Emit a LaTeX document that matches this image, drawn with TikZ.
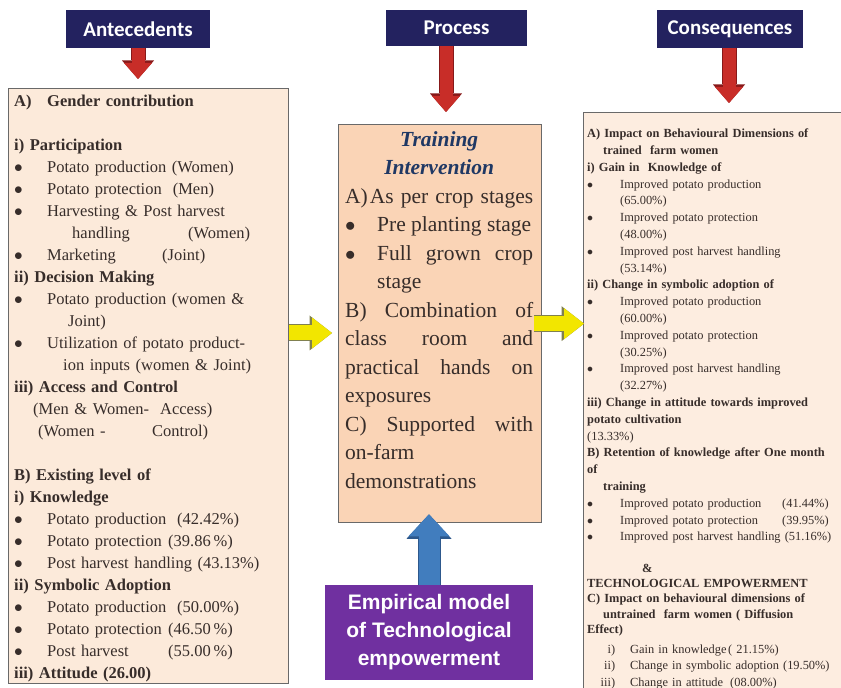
\documentclass[tikz,border=0pt]{standalone}
\usepackage{fontspec}
\setmainfont{Liberation Serif}
\newfontfamily\calibrifont{Carlito}
\newfontfamily\arialfont{Liberation Sans}
\usepackage{xcolor}
\usetikzlibrary{arrows.meta,positioning}

\definecolor{headnavy}{RGB}{35,34,95}
\definecolor{antefill}{RGB}{252,234,218}
\definecolor{procfill}{RGB}{250,212,182}
\definecolor{consfill}{RGB}{253,237,224}
\definecolor{empurple}{RGB}{112,48,160}
\definecolor{boxline}{RGB}{105,105,105}
\definecolor{titleblue}{RGB}{31,56,100}
\definecolor{bodytxt}{RGB}{55,45,42}
\definecolor{arrred}{RGB}{200,45,40}
\definecolor{arrreddark}{RGB}{135,25,25}
\definecolor{arrblue}{RGB}{65,125,190}
\definecolor{arrbluedark}{RGB}{45,88,140}
\definecolor{arryellow}{RGB}{242,230,0}
\definecolor{arryellowdark}{RGB}{128,128,80}

\newcommand{\bul}{\makebox[33pt][l]{$\bullet$}}
\newcommand{\colbox}[2]{\makebox[#1][l]{#2}}
% justified line: spaces stretch to the given width
\newcommand{\spread}[2]{{\spaceskip=0pt\xspaceskip=0pt\makebox[#1][s]{#2}}}
\newcommand{\jline}[1]{\spread{\hsize}{#1}}

\begin{document}
\begin{tikzpicture}[x=1pt, y=1pt,
  head/.style={fill=headnavy, text=white, inner sep=0pt,
               font=\calibrifont\bfseries\fontsize{21}{24}\selectfont},
  bigbox/.style={draw=boxline, line width=1.3pt, inner sep=0pt, anchor=north west},
  txt/.style={text=bodytxt, inner sep=0pt, anchor=north west, align=left},
  redarr/.style={draw=arrred, line width=13pt, shorten >=9pt,
                 -{Triangle[width=28pt, length=16pt, line width=0pt 0]},
                 preaction={draw=arrreddark, line width=15pt,
                 -{Triangle[width=32pt, length=18.5pt, line width=0pt 0]}}},
  yelarr/.style={draw=arryellow, line width=15pt,
                 -{Triangle[width=31pt, length=20pt, line width=0pt 0]},
                 preaction={draw=arryellowdark, line width=17pt,
                 -{Triangle[width=35pt, length=22.5pt, line width=0pt 0]}}},
  bluearr/.style={draw=arrblue, line width=21pt,
                 -{Triangle[width=41pt, length=22pt, line width=0pt 0]},
                 preaction={draw=arrbluedark, line width=23pt,
                 -{Triangle[width=45pt, length=24.5pt, line width=0pt 0]}}}]
\useasboundingbox (0,0) rectangle (841,688);
\fill[white] (0,0) rectangle (841,688);
\clip (0,0) rectangle (841,688);
% --- header boxes ---
\node[head, minimum width=144pt, minimum height=38pt] (anteh) at (138,659) {Antecedents};
\node[head, minimum width=141pt, minimum height=36pt] (proch) at (456.5,660) {Process};
\node[head, minimum width=146pt, minimum height=38pt] (consh) at (730,659) {Consequences};
% --- the three main boxes ---
\node[bigbox, fill=antefill, minimum width=280pt, minimum height=595pt] (ante) at (8,600) {};
\node[bigbox, fill=procfill, minimum width=203pt, minimum height=398pt] (proc) at (338,564) {};
\node[bigbox, fill=consfill, minimum width=300pt, minimum height=640pt] (cons) at (583,576) {};
% --- empirical model box ---
\node[fill=empurple, text=white, align=center, inner sep=0pt,
      minimum width=208pt, minimum height=95pt,
      font=\arialfont\bfseries\fontsize{21}{28}\selectfont] (model) at (429,55.5)
  {Empirical model\\of Technological\\empowerment};
% --- arrows ---
\draw[redarr] (anteh.south) -- (ante.north -| anteh.south);
\draw[redarr, shorten >=12pt] (proch.south -| 446,0) -- (proc.north -| 446,0);
\draw[redarr] (consh.south -| 729,0) -- (cons.north -| 729,0);
\draw[yelarr, shorten >=6pt] (ante.east |- 0,355) -- (proc.west |- 0,355);
\draw[yelarr, shorten <=-8pt, shorten >=-1pt] (proc.east) -- (cons.west |- proc.east);
\draw[bluearr, shorten >=-9pt] (model.north) -- (model.north |- proc.south);
% --- left box text ---
\node[txt, text width=272pt, font=\fontsize{16.5}{22}\selectfont] (antetxt) at (14,596.9)
  {\strut\colbox{33pt}{\textbf{A)}}\textbf{Gender contribution}\\[22pt]
   \textbf{i) Participation}\\
   \bul Potato production (Women)\\
   \bul Potato protection\ \ (Men)\\
   \bul Harvesting \& Post harvest\\
   \hspace*{58pt}\colbox{116pt}{handling}(Women)\\
   \bul\colbox{115pt}{Marketing}(Joint)\\
   \textbf{ii) Decision Making}\\
   \bul Potato production (women \&\\
   \hspace*{54pt}Joint)\\
   \bul Utilization of potato product-\\
   \hspace*{49pt}ion inputs (women \& Joint)\\
   \textbf{iii) Access and Control}\\
   \hspace*{19pt}(Men \& Women-\ \ Access)\\
   \hspace*{24pt}\colbox{114pt}{(Women -}Control)\\[22pt]
   \textbf{B) Existing level of}\\
   \textbf{i) Knowledge}\\
   \bul\colbox{130pt}{Potato production}(42.42\%)\\
   \bul\colbox{121pt}{Potato protection}(39.86\,\%)\\
   \bul Post harvest handling (43.13\%)\\
   \textbf{ii) Symbolic Adoption}\\
   \bul\colbox{130pt}{Potato production}(50.00\%)\\
   \bul\colbox{121pt}{Potato protection}(46.50\,\%)\\
   \bul\colbox{121pt}{Post harvest}(55.00\,\%)\\
   \textbf{iii) Attitude (26.00)}};
% --- middle box text ---
\node[txt, text width=188pt, font=\fontsize{21.5}{28.5}\selectfont] (proctxt) at (345,562)
  {\strut\makebox[\hsize][c]{\color{titleblue}\bfseries\itshape Training}\\
   \makebox[\hsize][c]{\color{titleblue}\bfseries\itshape Intervention}\\
   \jline{A)\hspace{2pt}As per crop stages}\\
   \colbox{32pt}{$\bullet$}\spread{154pt}{Pre planting stage}\\
   \colbox{32pt}{$\bullet$}\spread{156pt}{Full grown crop}\\
   \hspace*{32pt}stage\\
   \jline{B) Combination of}\\
   \jline{class room and}\\
   \jline{practical hands on}\\
   exposures\\
   \jline{C) Supported with}\\
   on-farm\\
   demonstrations};
% --- right box text ---
\node[txt, text width=275pt, font=\fontsize{12.4}{16.8}\selectfont] (constxt) at (587,562.3)
  {\strut\textbf{A) Impact on Behavioural Dimensions of}\\
   \hspace*{16pt}\textbf{trained\ \ farm women}\\
   \textbf{i) Gain in\ \ Knowledge of}\\
   \bul Improved potato production\\
   \hspace*{33pt}(65.00\%)\\
   \bul Improved potato protection\\
   \hspace*{33pt}(48.00\%)\\
   \bul Improved post harvest handling\\
   \hspace*{33pt}(53.14\%)\\
   \textbf{ii) Change in symbolic adoption of}\\
   \bul Improved potato production\\
   \hspace*{33pt}(60.00\%)\\
   \bul Improved potato protection\\
   \hspace*{33pt}(30.25\%)\\
   \bul Improved post harvest handling\\
   \hspace*{33pt}(32.27\%)\\
   \textbf{iii) Change in attitude towards improved}\\
   \textbf{potato cultivation}\\
   (13.33\%)\\
   \textbf{B) Retention of knowledge after One month}\\
   \textbf{of}\\
   \hspace*{16pt}\textbf{training}\\
   \bul\colbox{162pt}{Improved potato production}(41.44\%)\\
   \bul\colbox{162pt}{Improved potato protection}(39.95\%)\\
   \bul Improved post harvest handling (51.16\%)\\[15pt]
   \hspace*{55pt}\textbf{\&}\\[-2pt]
   \textbf{TECHNOLOGICAL EMPOWERMENT}\\[-1.5pt]
   \textbf{C) Impact on behavioural dimensions of}\\[-1.5pt]
   \hspace*{16pt}\textbf{untrained\ \ farm women ( Diffusion}\\[-1.5pt]
   \textbf{Effect)}\\[3pt]
   \makebox[28pt][r]{i)}\hspace{15pt}\colbox{98pt}{Gain in knowledge}( 21.15\%)\\
   \makebox[28pt][r]{ii)}\hspace{15pt}Change in symbolic adoption\ (19.50\%)\\
   \makebox[28pt][r]{iii)}\hspace{15pt}\colbox{100pt}{Change in attitude}(08.00\%)};
\end{tikzpicture}
\end{document}
